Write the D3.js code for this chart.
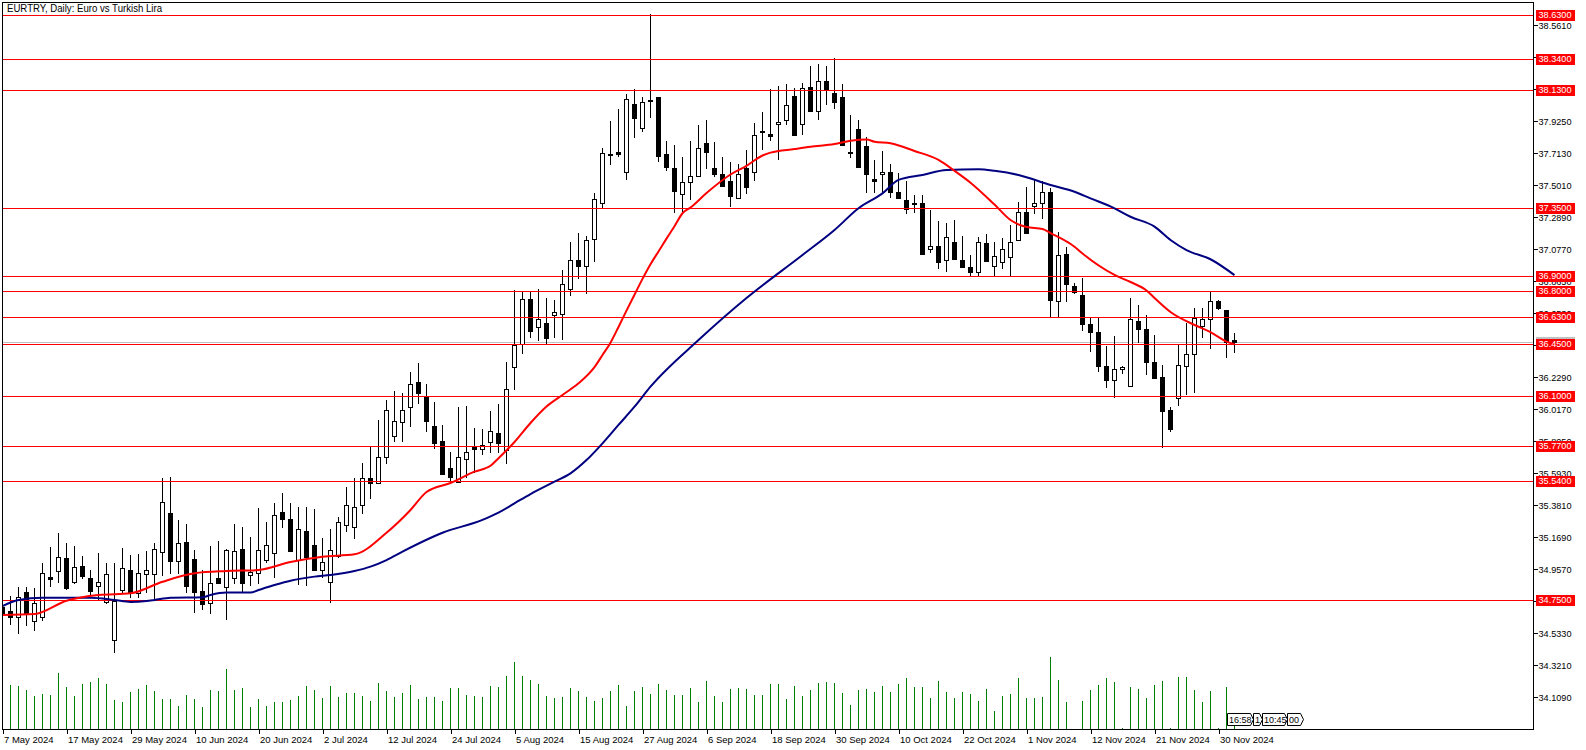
<!DOCTYPE html>
<html><head><meta charset="utf-8">
<script src="https://cdn.jsdelivr.net/npm/d3@7"></script>
<style>
html,body{margin:0;padding:0;background:#fff;}
svg{display:block;}
text{font-family:"Liberation Sans",Arial,sans-serif;}
</style></head><body>
<svg id="c" width="1586" height="750"></svg>
<script>
// ---------- DATA ----------
const title = "EURTRY, Daily:  Euro vs Turkish Lira";
const dateLabels = ["7 May 2024","17 May 2024","29 May 2024","10 Jun 2024","20 Jun 2024","2 Jul 2024","12 Jul 2024","24 Jul 2024","5 Aug 2024","15 Aug 2024","27 Aug 2024","6 Sep 2024","18 Sep 2024","30 Sep 2024","10 Oct 2024","22 Oct 2024","1 Nov 2024","12 Nov 2024","21 Nov 2024","30 Nov 2024"];
const dateLabelBars = [0,8,16,24,32,40,48,56,64,72,80,88,96,104,112,120,128,136,144,152];
const opens = [34.706,34.679,34.639,34.803,34.609,34.639,34.900,34.941,35.027,34.871,34.976,34.896,34.843,34.735,34.485,34.816,34.949,34.799,34.921,34.921,
35.071,35.325,35.011,35.137,35.022,34.810,34.733,34.896,34.839,34.894,35.089,34.916,34.927,35.016,35.060,35.334,35.286,35.016,35.208,35.115,
34.949,34.871,35.042,35.248,35.236,35.380,35.557,35.524,35.697,35.838,35.929,36.028,36.194,36.098,35.904,35.805,35.623,35.535,35.683,35.763,
35.752,35.800,35.856,35.745,36.297,36.448,36.744,36.559,36.589,36.640,36.646,36.811,37.005,36.967,37.142,37.381,37.703,37.720,37.591,38.040,
37.883,38.066,38.084,37.710,37.613,37.441,37.520,37.564,37.779,37.613,37.575,37.529,37.414,37.613,37.587,37.856,37.841,37.905,37.932,38.093,
37.905,38.150,37.991,38.192,38.111,38.084,37.722,37.872,37.761,37.542,37.573,37.591,37.454,37.403,37.383,37.381,37.076,37.100,37.005,37.122,
37.005,36.957,36.928,37.116,36.965,36.990,37.023,37.138,37.326,37.363,37.381,37.458,36.733,37.043,36.835,36.773,36.579,36.530,36.304,36.209,
36.280,36.169,36.603,36.545,36.327,36.227,36.010,36.087,36.304,36.380,36.569,36.612,36.733,36.673,36.475];
const highs = [34.730,34.777,34.839,34.839,34.830,34.994,35.099,35.192,35.126,35.108,35.042,34.949,35.060,34.994,34.994,35.093,35.049,35.056,35.077,35.126,
35.557,35.568,35.281,35.254,35.082,34.949,35.108,35.143,35.086,35.254,35.236,35.170,35.358,35.270,35.396,35.458,35.392,35.365,35.369,35.352,
35.159,35.219,35.303,35.502,35.557,35.661,35.767,35.944,36.076,36.136,36.121,36.261,36.324,36.182,36.061,35.911,35.730,36.032,36.037,35.889,
35.882,36.004,36.050,36.326,36.806,36.795,36.795,36.811,36.751,36.740,36.939,37.126,37.186,37.164,37.451,37.748,37.927,38.007,38.106,38.137,
38.088,38.637,38.084,37.794,37.768,37.690,37.794,37.900,37.934,37.790,37.690,37.657,37.642,37.735,37.912,37.985,38.137,38.159,38.172,38.144,
38.177,38.292,38.305,38.292,38.343,38.170,37.967,37.934,37.823,37.668,37.728,37.642,37.580,37.531,37.436,37.436,37.337,37.264,37.248,37.270,
37.164,37.038,37.156,37.177,37.126,37.149,37.237,37.392,37.491,37.536,37.531,37.481,37.193,37.093,36.850,36.884,36.629,36.629,36.435,36.501,
36.304,36.751,36.707,36.640,36.508,36.309,36.028,36.441,36.589,36.685,36.685,36.801,36.740,36.673,36.519];
const lows = [34.640,34.592,34.530,34.582,34.551,34.617,34.843,34.871,34.821,34.865,34.894,34.790,34.750,34.728,34.408,34.794,34.772,34.772,34.805,34.750,
34.916,34.927,34.927,34.805,34.673,34.690,34.661,34.865,34.622,34.861,34.805,34.850,34.865,35.004,34.905,35.236,35.077,34.856,34.850,34.949,
34.900,34.739,35.038,35.210,35.159,35.326,35.424,35.524,35.661,35.806,35.806,35.906,36.058,35.873,35.760,35.586,35.535,35.535,35.568,35.601,
35.718,35.734,35.734,35.661,36.152,36.390,36.492,36.474,36.457,36.496,36.482,36.773,36.888,36.788,36.998,37.348,37.640,37.697,37.542,37.823,
37.861,37.956,37.664,37.602,37.325,37.315,37.410,37.564,37.613,37.564,37.498,37.365,37.414,37.447,37.536,37.741,37.801,37.673,37.907,37.836,
37.841,37.995,37.938,38.038,38.011,37.768,37.690,37.624,37.458,37.454,37.451,37.425,37.414,37.319,37.325,37.043,37.060,36.954,36.934,37.010,
36.961,36.899,36.899,37.000,36.899,36.954,36.899,37.138,37.182,37.315,37.282,36.629,36.636,36.733,36.784,36.541,36.403,36.271,36.161,36.094,
36.254,36.169,36.463,36.249,36.224,35.767,35.873,36.043,36.119,36.129,36.496,36.419,36.680,36.360,36.397];
const closes = [34.657,34.635,34.768,34.657,34.728,34.927,34.890,35.038,34.832,34.971,34.909,34.812,34.869,34.921,34.745,34.960,34.805,34.927,34.949,35.086,
35.403,35.011,35.126,34.843,34.805,34.724,34.861,34.865,35.082,35.075,34.865,34.937,35.082,35.115,35.314,35.286,35.077,35.219,35.038,34.949,
35.004,35.082,35.270,35.379,35.369,35.557,35.524,35.697,36.010,35.939,36.010,36.181,36.121,35.939,35.793,35.586,35.564,35.701,35.734,35.750,
35.778,35.871,35.789,36.147,36.441,36.744,36.536,36.612,36.486,36.658,36.846,37.005,36.967,37.138,37.408,37.713,37.709,37.708,38.071,37.949,
38.051,38.058,37.697,37.624,37.465,37.520,37.562,37.746,37.723,37.575,37.498,37.432,37.575,37.487,37.834,37.861,37.828,37.918,38.031,37.836,
38.144,37.995,38.192,38.137,38.055,37.768,37.717,37.624,37.573,37.531,37.591,37.454,37.414,37.341,37.378,37.043,37.100,36.990,37.156,37.010,
36.961,36.928,37.122,37.000,37.034,37.076,37.122,37.322,37.182,37.381,37.458,36.740,37.038,36.844,36.791,36.581,36.530,36.304,36.209,36.280,
36.297,36.612,36.545,36.330,36.224,36.006,35.882,36.309,36.381,36.618,36.612,36.735,36.685,36.463,36.461];
const volumes = [40,44,43,39,33,35,34,56,42,33,45,47,51,45,29,27,37,40,44,38,
30,30,23,34,30,22,39,38,60,39,41,22,30,23,27,27,29,33,43,39,
31,43,32,36,36,33,28,46,38,32,36,44,30,32,32,28,41,41,34,33,
32,43,42,53,67,53,49,45,33,31,32,41,38,32,28,31,38,44,23,38,
42,35,45,39,34,34,41,27,48,33,27,40,41,40,34,34,45,45,30,43,
33,39,46,47,46,36,24,39,40,37,43,37,45,51,42,42,31,48,37,31,
37,35,28,40,18,33,35,51,31,31,32,72,49,27,0,28,39,44,51,47,
1,42,40,31,44,48,1,52,52,39,27,38,1,42,12];
// moving averages (at selected bars)
const maRedBars = [0,4,8,12,16,20,24,28,32,36,40,44,48,51,53,56,59,61,62,64,66,68,70,72,74,75,76,77,78,79,80,81,82,83,84,85,86,88,91,93,95,96,99,101,104,106,108,109,111,114,117,119,121,124,126,128,130,131,134,135,139,141,143,144,146,149,151,153,154];
const maRedVals = [34.650,34.657,34.745,34.783,34.794,34.871,34.927,34.942,34.949,35.002,35.037,35.053,35.196,35.347,35.466,35.526,35.601,35.640,35.690,35.798,35.924,36.033,36.110,36.187,36.295,36.375,36.457,36.561,36.669,36.775,36.880,36.977,37.062,37.147,37.229,37.315,37.353,37.449,37.572,37.630,37.698,37.717,37.741,37.756,37.774,37.796,37.804,37.790,37.779,37.728,37.669,37.597,37.518,37.373,37.270,37.224,37.211,37.184,37.093,37.048,36.906,36.859,36.803,36.753,36.660,36.574,36.527,36.464,36.446];
const maBlueBars = [0,2,5,11,14,16,18,19,21,25,26,28,31,32,34,36,39,41,44,46,48,50,55,60,62,64,66,69,71,73,75,77,79,81,87,93,100,104,107,110,112,115,118,122,124,127,131,134,136,139,141,144,146,148,151,154];
const maBlueVals = [34.710,34.750,34.765,34.765,34.750,34.737,34.743,34.750,34.765,34.768,34.783,34.799,34.799,34.816,34.849,34.878,34.905,34.916,34.942,34.971,35.015,35.071,35.196,35.281,35.329,35.391,35.453,35.535,35.590,35.678,35.789,35.911,36.032,36.165,36.474,36.753,37.038,37.204,37.348,37.447,37.536,37.569,37.602,37.607,37.597,37.569,37.502,37.458,37.414,37.348,37.292,37.226,37.138,37.071,37.010,36.905];
const levels = [38.63,38.34,38.13,37.35,36.90,36.80,36.63,36.45,36.10,35.77,35.54,34.75];
const priceTicks = [38.561,38.349,38.137,37.925,37.713,37.501,37.289,37.077,36.865,36.653,36.441,36.229,36.017,35.805,35.593,35.381,35.169,34.957,34.745,34.533,34.321,34.109];
const bid = 36.461;
const timeTags = ["16:58","1","10:45","00"];

// ---------- LAYOUT ----------
const L=2, R=1533, T=2, B=729;
const svg = d3.select("#c");
const n = opens.length;
const x = d3.scaleLinear().domain([0, n-1]).range([2.5, 2.5 + 8*(n-1)]);
const y = d3.scaleLinear().domain([34.75, 38.63]).range([600, 15]);
const yv = d3.scaleLinear().domain([0, 100]).range([B, B-100]);
const sy = v => Math.round(y(v)) + 0.5;

svg.append("defs").append("clipPath").attr("id","clip")
  .append("rect").attr("x",L+0.5).attr("y",T+0.5).attr("width",R-L-0.5).attr("height",B-T-0.5);
const plot = svg.append("g").attr("clip-path","url(#clip)").attr("shape-rendering","crispEdges");

// volumes
plot.append("g").selectAll("line").data(volumes).join("line")
  .attr("x1",(d,i)=>x(i)).attr("x2",(d,i)=>x(i))
  .attr("y1",B).attr("y2",d=>Math.round(yv(d)))
  .attr("stroke","#008000").attr("stroke-width",1);

// bid line
plot.append("line").attr("x1",L).attr("x2",R).attr("y1",sy(bid)).attr("y2",sy(bid))
  .attr("stroke","#c0c0c0").attr("stroke-width",1);

// candles
const cg = plot.append("g");
d3.range(n).forEach(i=>{
  const cx = x(i);
  const o=opens[i], c=closes[i], h=highs[i], l=lows[i];
  cg.append("line").attr("x1",cx).attr("x2",cx).attr("y1",Math.round(y(h))).attr("y2",Math.round(y(l))+1)
    .attr("stroke","#000").attr("stroke-width",1);
  const top = Math.round(y(Math.max(o,c))), bot = Math.round(y(Math.min(o,c)));
  if (bot - top < 1) {
    cg.append("line").attr("x1",cx-2.5).attr("x2",cx+2.5).attr("y1",top+0.5).attr("y2",top+0.5)
      .attr("stroke","#000").attr("stroke-width",1);
  } else {
    cg.append("rect").attr("x",cx-2).attr("y",top+0.5).attr("width",4).attr("height",bot-top)
      .attr("fill", c>=o ? "#fff" : "#000").attr("stroke","#000").attr("stroke-width",1);
  }
});

// moving averages
const line = d3.line().x(d=>x(d[0])).y(d=>y(d[1])).curve(d3.curveMonotoneX);
const mag = svg.append("g").attr("clip-path","url(#clip)");
mag.append("path").datum(d3.zip(maBlueBars,maBlueVals)).attr("d",line)
  .attr("fill","none").attr("stroke","#000080").attr("stroke-width",2);
mag.append("path").datum(d3.zip(maRedBars,maRedVals)).attr("d",line)
  .attr("fill","none").attr("stroke","#ff0000").attr("stroke-width",2);

// horizontal levels
plot.append("g").selectAll("line").data(levels).join("line")
  .attr("x1",L).attr("x2",R).attr("y1",d=>sy(d)).attr("y2",d=>sy(d))
  .attr("stroke","#ff0000").attr("stroke-width",1);

// frame
const fr = svg.append("g").attr("shape-rendering","crispEdges").attr("stroke","#000").attr("stroke-width",1);
fr.append("line").attr("x1",L+0.5).attr("x2",L+0.5).attr("y1",T).attr("y2",B+1);
fr.append("line").attr("x1",L).attr("x2",R+1).attr("y1",T+0.5).attr("y2",T+0.5);
fr.append("line").attr("x1",R+0.5).attr("x2",R+0.5).attr("y1",T).attr("y2",B+1);
fr.append("line").attr("x1",L).attr("x2",R+1).attr("y1",B+0.5).attr("y2",B+0.5);

// title
svg.append("text").attr("x",7).attr("y",12).attr("font-size",10.5)
  .attr("textLength",155).attr("lengthAdjust","spacingAndGlyphs").attr("fill","#000").text(title);

// right price axis
const ya = svg.append("g").attr("transform",`translate(${R+0.5},0)`)
  .call(d3.axisRight(y).tickValues(priceTicks).tickFormat(d3.format(".4f")).tickSize(4).tickSizeOuter(0).tickPadding(1));
ya.select(".domain").remove();
ya.selectAll(".tick line").attr("stroke","#000").attr("shape-rendering","crispEdges");
ya.selectAll(".tick").attr("transform",d=>`translate(0,${sy(d)})`);
ya.selectAll("text").attr("font-family","Liberation Sans, Arial, sans-serif").attr("font-size",9.5).attr("fill","#000")
  .attr("textLength",33).attr("lengthAdjust","spacingAndGlyphs");

// bid label (mostly hidden)
svg.append("rect").attr("x",1536).attr("y",Math.round(y(bid))-5).attr("width",39).attr("height",10).attr("fill","#c0c0c0");

// level labels
const lg = svg.append("g").selectAll("g").data(levels).join("g")
  .attr("transform",d=>`translate(1536,${Math.round(y(d))})`);
lg.append("rect").attr("x",0).attr("y",-5).attr("width",39).attr("height",11).attr("fill","#ff0000");
lg.append("text").attr("x",2.5).attr("y",0).attr("dy","0.35em").attr("font-size",9.5).attr("fill","#fff")
  .attr("textLength",33).attr("lengthAdjust","spacingAndGlyphs").text(d=>d.toFixed(4));

// bottom date axis
const xa = svg.append("g").attr("transform",`translate(0,${B+0.5})`)
  .call(d3.axisBottom(x).tickValues(dateLabelBars).tickFormat((d,i)=>dateLabels[i]).tickSize(4).tickSizeOuter(0).tickPadding(3));
xa.select(".domain").remove();
xa.selectAll(".tick line").attr("stroke","#000").attr("shape-rendering","crispEdges");
xa.selectAll("text").attr("font-family","Liberation Sans, Arial, sans-serif").attr("font-size",9.5).attr("fill","#000")
  .attr("text-anchor","start").attr("x",1);

// time tags near the last bar
const tagX = [[1227,1253],[1253,1262],[1262,1287],[1287,1303]];
const tg = svg.append("g");
timeTags.forEach((t,i)=>{
  const [a,b]=tagX[i], y0=713.5, y1=725.5;
  tg.append("polygon").attr("points",`${a+0.5},${y0} ${b-2.5},${y0} ${b+0.5},${(y0+y1)/2} ${b-2.5},${y1} ${a+0.5},${y1}`)
    .attr("fill","#fff").attr("stroke","#000").attr("stroke-width",1);
  tg.append("text").attr("x",a+2).attr("y",723).attr("font-size",9).attr("fill","#000").text(t);
});
</script>
</body></html>
